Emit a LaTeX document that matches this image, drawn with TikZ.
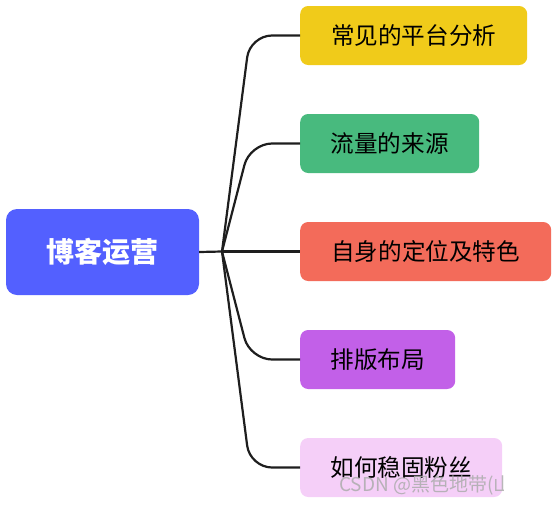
\documentclass[tikz,border=0pt]{standalone}
\usepackage{fontspec}
\setmainfont{Noto Sans CJK SC}
\newfontfamily\cjkfont{Noto Sans CJK SC}
\definecolor{rootblue}{HTML}{5360FF}
\definecolor{cyellow}{HTML}{F0CB1A}
\definecolor{cgreen}{HTML}{48BA7E}
\definecolor{cred}{HTML}{F36B5A}
\definecolor{cpurple}{HTML}{C260E8}
\definecolor{cpink}{HTML}{F5CFF8}
\definecolor{linecol}{HTML}{1E1E1E}
\begin{document}
\begin{tikzpicture}[x=1pt,y=-1pt,
  rootbox/.style={fill=rootblue, rounded corners=11pt, minimum width=193pt, minimum height=86pt,
    inner sep=0pt, text=white, font=\cjkfont\fontsize{28}{30}\selectfont\bfseries},
  childbox/.style={anchor=west, rounded corners=8pt, minimum height=59pt, inner sep=0pt,
    text=black, font=\cjkfont\fontsize{23.6}{26}\selectfont},
  link/.style={draw=linecol, line width=2.2pt, rounded corners=22pt}
]
\useasboundingbox (0,0) rectangle (557,504);
\node[rootbox] (root) at (102.5,252) {博客运营};
\node[childbox, fill=cyellow, minimum width=227pt] (c1) at (300,35.5) {常见的平台分析};
\node[childbox, fill=cgreen, minimum width=179pt] (c2) at (300,143.5) {流量的来源};
\node[childbox, fill=cred, minimum width=251pt] (c3) at (300,251.5) {自身的定位及特色};
\node[childbox, fill=cpurple, minimum width=155pt] (c4) at (300,359.5) {排版布局};
\node[childbox, fill=cpink, minimum width=202pt] (c5) at (300,467.5) {如何稳固粉丝};
\coordinate (j) at (222,251.5);
\draw[link] (root.east) -- (j);
\draw[link] (j) -- (250,35.5) -- (c1.west);
\draw[link] (j) -- (250,143.5) -- (c2.west);
\draw[link] (j) -- (c3.west);
\draw[link] (j) -- (250,359.5) -- (c4.west);
\draw[link] (j) -- (250,467.5) -- (c5.west);
\begin{scope}
\clip (0,0) rectangle (503,504);
\node[anchor=west, inner sep=0pt, text=gray!65, opacity=0.85, font=\cjkfont\fontsize{19}{21}\selectfont] (wm) at (339,485) {CSDN @黑色地带(山};
\end{scope}
\end{tikzpicture}
\end{document}
